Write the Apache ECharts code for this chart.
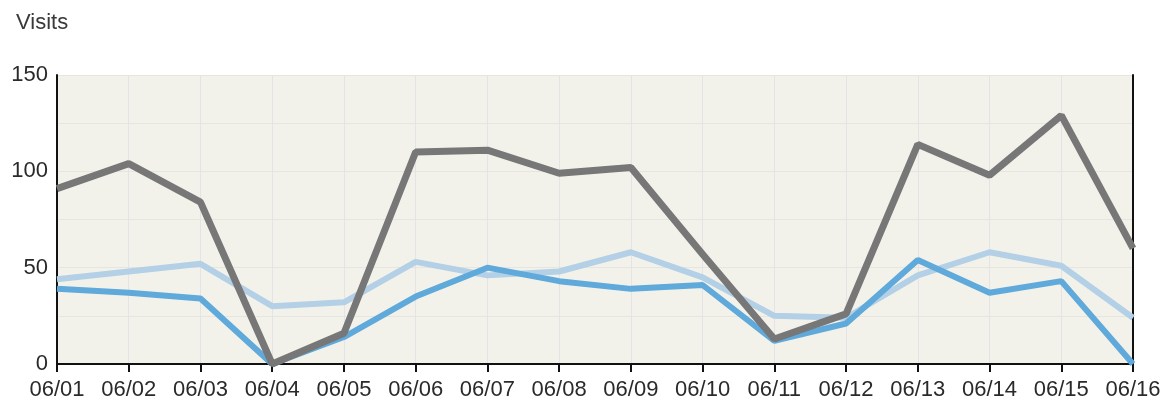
<!DOCTYPE html>
<html>
<head>
<meta charset="utf-8">
<script src="https://cdn.jsdelivr.net/npm/echarts@6/dist/echarts.min.js"></script>
<style>
  html, body { margin: 0; padding: 0; background: #fff; }
  #chart { width: 1171px; height: 407px; }
</style>
</head>
<body>
<div id="chart"></div>
<script>
const days = ['06/01', '06/02', '06/03', '06/04', '06/05', '06/06', '06/07', '06/08',
  '06/09', '06/10', '06/11', '06/12', '06/13', '06/14', '06/15', '06/16']

// three visit series
const visitsTotal = [91, 104, 84, 0, 16, 110, 111, 99, 102, 57, 13, 26, 114, 98, 129, 60]
const visitsMid = [39, 37, 34, 0, 14, 35, 50, 43, 39, 41, 12, 21, 54, 37, 43, 0]
const visitsLight = [44, 48, 52, 30, 32, 53, 46, 48, 58, 45, 25, 24, 46, 58, 51, 24]

const yTicks = [0, 50, 100, 150]

const chart = echarts.init(document.getElementById('chart'))
const font = 'Liberation Sans, Arial, sans-serif'

chart.setOption({
  animation: false,
  textStyle: { fontFamily: font },
  title: {
    text: 'Visits',
    left: 11,
    top: 7,
    textStyle: { fontSize: 22, fontWeight: 'normal', color: '#3a3a3a', fontFamily: font },
  },
  grid: { left: 57, right: 38, top: 75, bottom: 43, show: true, backgroundColor: '#f3f2ea', borderWidth: 0 },
  xAxis: {
    type: 'category',
    data: days,
    boundaryGap: false,
    axisLine: { lineStyle: { color: '#111', width: 2 } },
    axisTick: { show: true, length: 8, lineStyle: { color: '#111', width: 2 } },
    axisLabel: { color: '#2a2a2a', fontSize: 22, margin: 15, interval: 0, fontFamily: font },
    splitLine: { show: true, lineStyle: { color: '#e4e4e8', width: 1 } },
  },
  yAxis: [
    {
      type: 'value',
      min: 0,
      max: 150,
      interval: 25,
      axisLine: { show: true, lineStyle: { color: '#111', width: 2 } },
      axisTick: { show: false },
      axisLabel: {
        color: '#2a2a2a',
        fontSize: 22,
        margin: 9,
        fontFamily: font,
        formatter: (v) => (yTicks.includes(v) ? String(v) : ''),
      },
      splitLine: { show: true, lineStyle: { color: '#e6e5df', width: 1 } },
    },
    {
      type: 'value',
      min: 0,
      max: 150,
      interval: 25,
      position: 'right',
      axisLine: { show: true, lineStyle: { color: '#111', width: 2 } },
      axisTick: { show: false },
      axisLabel: { show: false },
      splitLine: { show: false },
    },
  ],
  series: [
    {
      name: 'light',
      type: 'line',
      data: visitsLight,
      symbol: 'none',
      lineStyle: { color: '#b3d0e6', width: 6 },
    },
    {
      name: 'mid',
      type: 'line',
      data: visitsMid,
      symbol: 'none',
      lineStyle: { color: '#5fa9db', width: 6 },
    },
    {
      name: 'total',
      type: 'line',
      data: visitsTotal,
      symbol: 'none',
      lineStyle: { color: '#777777', width: 7 },
    },
  ],
})
</script>
</body>
</html>
